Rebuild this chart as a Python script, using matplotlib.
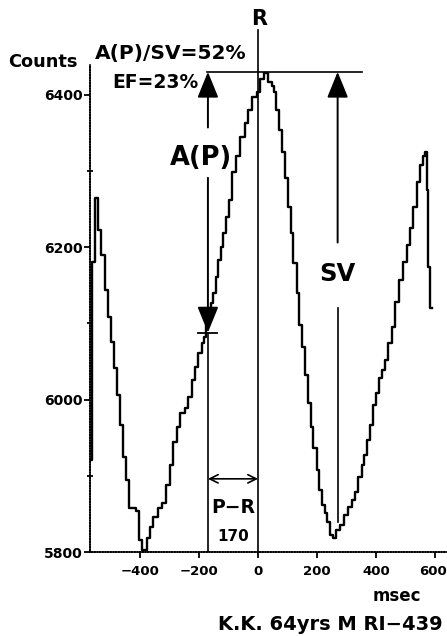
import matplotlib
matplotlib.use("Agg")
import matplotlib.pyplot as plt
import matplotlib.transforms as mtransforms

plt.rcParams['font.family'] = ['DejaVu Sans']
plt.rcParams['font.weight'] = 'bold'

# time-activity curve, one sample per step (msec from R wave, counts)
t_ms = [-570, -563, -553, -542, -532, -519, -509, -498, -488, -478,
        -468, -458, -447, -437, -414, -403, -393, -376, -366, -356,
        -339, -325, -312, -298, -288, -275, -264, -247, -237, -224,
        -214, -203, -190, -183, -176, -170, -159, -153, -142, -136,
        -125, -119, -108, -98, -88, -75, -61, -44, -34, -20,
        -3, 7, 20, 34, 47, 54, 61, 71, 81, 92,
        102, 112, 119, 132, 139, 149, 159, 170, 180, 186,
        200, 207, 217, 227, 234, 244, 254, 264, 278, 292,
        305, 319, 329, 339, 353, 359, 370, 380, 390, 400,
        410, 420, 431, 441, 454, 464, 478, 492, 505, 515,
        525, 539, 549, 559, 566, 573, 576, 583, 590]
counts = [5921, 6181, 6265, 6223, 6190, 6144, 6109, 6076, 6042, 6006,
          5967, 5925, 5895, 5858, 5854, 5816, 5803, 5818, 5833, 5846,
          5858, 5864, 5888, 5914, 5944, 5964, 5983, 5989, 6004, 6026,
          6043, 6061, 6074, 6082, 6098, 6114, 6127, 6140, 6161, 6183,
          6200, 6219, 6239, 6262, 6299, 6319, 6345, 6363, 6380, 6397,
          6404, 6420, 6429, 6417, 6411, 6403, 6380, 6354, 6325, 6291,
          6253, 6219, 6179, 6140, 6098, 6069, 6032, 5996, 5964, 5937,
          5908, 5881, 5862, 5851, 5839, 5822, 5818, 5829, 5835, 5849,
          5859, 5868, 5879, 5898, 5914, 5927, 5947, 5967, 5993, 6009,
          6028, 6039, 6052, 6074, 6095, 6128, 6157, 6181, 6203, 6225,
          6253, 6286, 6308, 6319, 6325, 6275, 6174, 6120, 6120]

x_ticks = [-400, -200, 0, 200, 400, 600]
x_labels = ['\u2212400', '\u2212200', '0', '200', '400', '600']
y_ticks = [5800, 6000, 6200, 6400]
y_minor = [5900, 6100, 6300]

peak_count = 6430      # end-diastolic level
ap_count = 6088        # level at P wave
sv_bottom = 5840
p_time = -170          # P-R interval
sv_time = 270

fig = plt.figure(figsize=(4.47, 6.36), dpi=100)
ax = fig.add_axes([90 / 447, 84 / 636, 357 / 447, 487 / 636])
ax.set_xlim(-570, 641)
ax.set_ylim(5800, 6439)

ax.plot(t_ms, counts, drawstyle='steps-post', color='black', lw=1.7)

for side in ['top', 'right']:
    ax.spines[side].set_visible(False)
for side in ['left', 'bottom']:
    ax.spines[side].set_linestyle((0, (1, 0.6)))
    ax.spines[side].set_linewidth(1.2)

ax.set_xticks(x_ticks)
ax.set_xticklabels(x_labels)
ax.set_yticks(y_ticks)
ax.set_yticks(y_minor, minor=True)
ax.tick_params(axis='x', direction='out', length=4, width=1.3, pad=5.5, labelsize=9.5)
ax.tick_params(axis='y', direction='out', length=4.5, width=1.3, pad=1, labelsize=10)
ax.tick_params(axis='y', which='minor', direction='inout', length=5, width=1.3)
for lab in ax.get_xticklabels() + ax.get_yticklabels():
    lab.set_fontweight('bold')
# nudge the last x label so it stays inside the figure
last = ax.get_xticklabels()[-1]
last.set_transform(last.get_transform() +
                   mtransforms.ScaledTranslation(-2 / 100, 0, fig.dpi_scale_trans))

# R marker line and the end-diastolic reference line
ax.plot([0, 0], [5800, 6485], color='black', lw=1.2, clip_on=False)
ax.text(5, 6500, 'R', ha='center', va='center', fontsize=15, clip_on=False)
ax.plot([-173, 352], [peak_count, peak_count], color='black', lw=1.2, clip_on=False)

head = dict(arrowstyle='-|>,head_length=1.6,head_width=0.65', color='black',
            lw=1.4, shrinkA=0, shrinkB=0, mutation_scale=10)

# A(P) arrows
ax.annotate('', xy=(p_time, peak_count), xytext=(p_time, 6357), arrowprops=head)
ax.text(-193, 6317, 'A(P)', ha='center', va='center', fontsize=18.5)
ax.annotate('', xy=(p_time, ap_count), xytext=(p_time, 6291), arrowprops=head)
ax.plot([p_time - 32, p_time + 32], [ap_count, ap_count], color='black', lw=1.3)
ax.plot([p_time, p_time], [5800, ap_count], color='black', lw=1.2)

# SV arrow
ax.annotate('', xy=(sv_time, peak_count), xytext=(sv_time, 6206), arrowprops=head)
ax.text(sv_time, 6165, 'SV', ha='center', va='center', fontsize=17.5)
ax.plot([sv_time, sv_time], [sv_bottom, 6120], color='black', lw=1.2)

# P-R interval
ax.annotate('', xy=(p_time, 5896), xytext=(0, 5896),
            arrowprops=dict(arrowstyle='<->,head_length=0.6,head_width=0.3',
                            color='black', lw=1.2, shrinkA=0, shrinkB=0,
                            mutation_scale=10))
ax.text(p_time / 2, 5859, 'P\u2212R', ha='center', va='center', fontsize=13.5)
ax.text(p_time / 2, 5820, '170', ha='center', va='center', fontsize=11)

# header and footer labels (figure pixel positions)
def fig_text(px, py, s, **kw):
    fig.text(px / 447, 1 - py / 636, s, **kw)

fig_text(43, 62, 'Counts', ha='center', va='center', fontsize=12.8)
fig_text(95, 53, 'A(P)/SV=52%', ha='left', va='center', fontsize=14.5)
fig_text(112, 82, 'EF=23%', ha='left', va='center', fontsize=13.5)
fig_text(397, 596, 'msec', ha='center', va='center', fontsize=12)
fig_text(330, 625, 'K.K. 64yrs M RI\u2212439', ha='center', va='center', fontsize=14)

fig.savefig('out.png', dpi=100)
